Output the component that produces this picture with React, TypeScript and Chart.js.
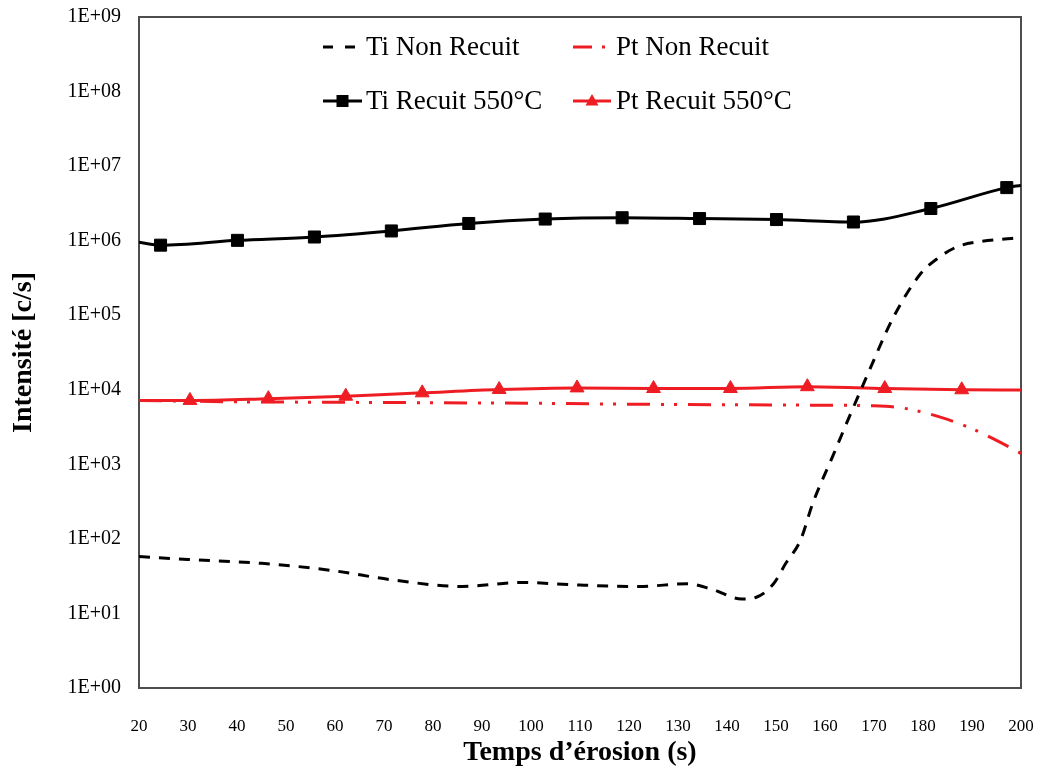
import React, { useEffect, useRef } from 'react';
import { Chart, registerables } from 'chart.js';

Chart.register(...registerables);

// ---- Data ----
const seriesLabels = ['Ti Non Recuit', 'Pt Non Recuit', 'Ti Recuit 550°C', 'Pt Recuit 550°C'];

const tiNonRecuitX = [20, 30, 45, 59, 72, 86, 98, 110, 122, 132, 137, 143, 146, 149.5, 152, 155, 157.5, 161.5, 165, 168.5, 174, 179.5, 183, 187, 192, 198, 200];
const tiNonRecuitY = [58, 53, 47, 38, 28, 23, 26, 24, 23, 25, 21, 15.6, 16.5, 25, 47, 96, 300, 1250, 4400, 15000, 95000, 360000, 580000, 830000, 980000, 1070000, 1100000];

const ptNonRecuitX = [20, 40, 60, 80, 100, 120, 140, 160, 170, 175, 180, 185, 190, 195, 200];
const ptNonRecuitY = [7200, 6900, 6800, 6700, 6600, 6400, 6300, 6200, 6100, 5800, 5000, 4000, 3000, 2100, 1400];

const tiRecuitX = [20, 24.4, 40.1, 55.8, 71.5, 87.3, 102.9, 118.6, 134.4, 150.1, 165.8, 181.6, 197.1, 200];
const tiRecuitY = [950000, 870000, 1010000, 1120000, 1350000, 1700000, 1950000, 2030000, 1980000, 1920000, 1780000, 2700000, 5150000, 5500000];

const ptRecuitX = [20, 30.4, 46.4, 62.2, 77.8, 93.5, 109.4, 125.0, 140.7, 156.4, 172.2, 187.9, 200];
const ptRecuitY = [7200, 7200, 7600, 8200, 9100, 10100, 10600, 10400, 10400, 11000, 10400, 10000, 9900];

const yTickExponents = [0, 1, 2, 3, 4, 5, 6, 7, 8, 9];
const xMin = 20;
const xMax = 200;
const xStep = 10;

const RED = '#ee1d23';
const FONT = '"Liberation Serif", "Times New Roman", serif';

const toPoints = (xs: number[], ys: number[]) => xs.map((x, i) => ({ x, y: ys[i] }));
const endpointsHidden = (n: number, r: number) => (ctx: any) =>
  ctx.dataIndex === 0 || ctx.dataIndex === n - 1 ? 0 : r;

const frame = {
  id: 'frame',
  beforeDatasetsDraw(chart: any) {
    const { ctx, chartArea: a } = chart;
    ctx.save();
    ctx.strokeStyle = '#4d4d4d';
    ctx.lineWidth = 2;
    ctx.strokeRect(a.left, a.top, a.right - a.left, a.bottom - a.top);
    ctx.restore();
  },
};

const insideLegend = {
  id: 'insideLegend',
  afterDraw(chart: any) {
    const { ctx, chartArea: a } = chart;
    const cols = [184, 434];
    const rows = [30, 84];
    const layout = [
      { i: 0, c: 0, r: 0, len: 32, dash: [10, 12] },
      { i: 1, c: 1, r: 0, len: 38, dash: [19, 10, 3, 100] },
      { i: 2, c: 0, r: 1, len: 39, dash: [] },
      { i: 3, c: 1, r: 1, len: 38, dash: [] },
    ];
    ctx.save();
    for (const it of layout) {
      const ds = chart.data.datasets[it.i];
      const x0 = a.left + cols[it.c];
      const y = a.top + rows[it.r];
      ctx.strokeStyle = ds.borderColor;
      ctx.lineWidth = ds.borderWidth;
      ctx.setLineDash(it.dash);
      ctx.beginPath();
      ctx.moveTo(x0, y);
      ctx.lineTo(x0 + it.len, y);
      ctx.stroke();
      ctx.setLineDash([]);
      const cx = x0 + it.len / 2;
      if (ds.pointStyle === 'rect') {
        ctx.fillStyle = ds.pointBackgroundColor;
        ctx.fillRect(cx - 6, y - 6, 12, 12);
      } else if (ds.pointStyle === 'triangle') {
        ctx.fillStyle = ds.pointBackgroundColor;
        ctx.beginPath();
        ctx.moveTo(cx, y - 7);
        ctx.lineTo(cx + 6.5, y + 4.5);
        ctx.lineTo(cx - 6.5, y + 4.5);
        ctx.closePath();
        ctx.fill();
      }
      ctx.fillStyle = '#000';
      ctx.font = `27px ${FONT}`;
      ctx.textBaseline = 'middle';
      ctx.textAlign = 'left';
      ctx.fillText(ds.label, x0 + 43, y + 1);
    }
    ctx.restore();
  },
};

export default function App() {
  const canvasRef = useRef<HTMLCanvasElement | null>(null);

  useEffect(() => {
    if (!canvasRef.current) return;
    Chart.defaults.font.family = FONT;
    const chart = new Chart(canvasRef.current, {
      type: 'line',
      data: {
        datasets: [
          {
            label: seriesLabels[0],
            data: toPoints(tiNonRecuitX, tiNonRecuitY),
            borderColor: '#000',
            backgroundColor: '#000',
            borderWidth: 3,
            borderDash: [11, 9],
            pointRadius: 0,
            cubicInterpolationMode: 'monotone',
            fill: false,
          },
          {
            label: seriesLabels[1],
            data: toPoints(ptNonRecuitX, ptNonRecuitY),
            borderColor: RED,
            backgroundColor: RED,
            borderWidth: 3,
            borderDash: [23, 11, 3, 10, 3, 11],
            pointRadius: 0,
            cubicInterpolationMode: 'monotone',
            fill: false,
          },
          {
            label: seriesLabels[2],
            data: toPoints(tiRecuitX, tiRecuitY),
            borderColor: '#000',
            backgroundColor: '#000',
            borderWidth: 3,
            pointStyle: 'rect',
            pointBackgroundColor: '#000',
            pointBorderColor: '#000',
            pointBorderWidth: 1,
            pointRadius: endpointsHidden(tiRecuitX.length, 8.5),
            cubicInterpolationMode: 'monotone',
            fill: false,
          },
          {
            label: seriesLabels[3],
            data: toPoints(ptRecuitX, ptRecuitY),
            borderColor: RED,
            backgroundColor: RED,
            borderWidth: 3,
            pointStyle: 'triangle',
            pointBackgroundColor: RED,
            pointBorderColor: RED,
            pointBorderWidth: 1,
            pointRadius: endpointsHidden(ptRecuitX.length, 8),
            cubicInterpolationMode: 'monotone',
            fill: false,
          },
        ] as any,
      },
      options: {
        responsive: false,
        animation: false,
        layout: { padding: { left: 0, right: 22, top: 17, bottom: 0 } },
        plugins: {
          legend: { display: false },
          tooltip: { enabled: false },
        },
        scales: {
          x: {
            type: 'linear',
            min: xMin,
            max: xMax,
            grid: { display: false, drawTicks: true, tickLength: 28 },
            border: { display: false },
            ticks: {
              stepSize: xStep,
              autoSkip: false,
              maxRotation: 0,
              padding: 0,
              color: '#000',
              font: { size: 17, family: FONT },
            },
            title: {
              display: true,
              text: 'Temps d’érosion (s)',
              color: '#000',
              font: { size: 28, weight: 'bold', family: FONT },
              padding: { top: 0, bottom: 12 },
            },
            afterFit: (s: any) => {
              s.height = 94;
            },
          },
          y: {
            type: 'logarithmic',
            min: 1,
            max: 1e9,
            grid: { display: false, drawTicks: true, tickLength: 18 },
            border: { display: false },
            afterBuildTicks: (s: any) => {
              s.ticks = yTickExponents.map((e) => ({ value: Math.pow(10, e) }));
            },
            ticks: {
              autoSkip: false,
              padding: 0,
              color: '#000',
              font: { size: 20, family: FONT },
              callback: (v: any) => {
                const e = Math.round(Math.log10(Number(v)));
                return '1E+' + String(e).padStart(2, '0');
              },
            },
            title: {
              display: true,
              text: 'Intensité [c/s]',
              color: '#000',
              font: { size: 28, weight: 'bold', family: FONT },
              padding: { top: 7, bottom: 0 },
            },
            afterFit: (s: any) => {
              s.width = 139;
            },
          },
        },
      } as any,
      plugins: [frame, insideLegend],
    });
    return () => chart.destroy();
  }, []);

  return (
    <div style={{ position: 'fixed', left: 0, top: 0, width: 1043, height: 782, background: '#fff' }}>
      <canvas ref={canvasRef} width={1043} height={782} />
    </div>
  );
}
